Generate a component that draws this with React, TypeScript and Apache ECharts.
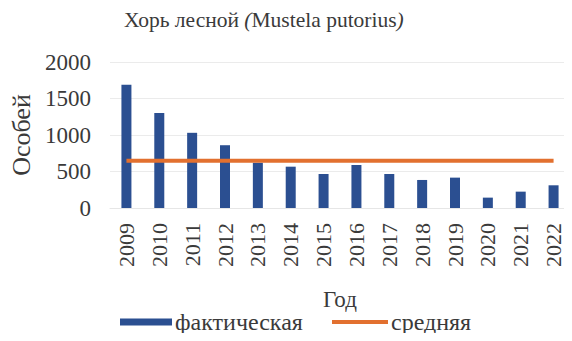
import React, { useEffect, useRef } from "react";
import * as echarts from "echarts";

const years = ["2009","2010","2011","2012","2013","2014","2015","2016","2017","2018","2019","2020","2021","2022"];
const actual = [1690, 1300, 1030, 860, 620, 566, 466, 589, 466, 384, 416, 142, 224, 311];
const average = [647, 647, 647, 647, 647, 647, 647, 647, 647, 647, 647, 647, 647, 647];
const yTicks = { min: 0, max: 2000, interval: 500 };

const FONT = "'Times New Roman', 'Liberation Serif', Times, serif";
const TXT = "#3a3a3a";

export default function App() {
  const ref = useRef<HTMLDivElement>(null);
  useEffect(() => {
    if (!ref.current) return;
    const chart = echarts.init(ref.current, undefined, { renderer: "svg" });
    chart.setOption({
      animation: false,
      backgroundColor: "#ffffff",
      textStyle: { fontFamily: FONT },
      title: {
        text: "{n|Хорь лесной }{i|(}{n|Mustela putorius}{i|)}",
        left: 124,
        top: 9,
        padding: 0,
        textStyle: {
          fontWeight: "normal",
          fontFamily: FONT,
          rich: {
            n: { fontFamily: FONT, fontSize: 21.5, color: TXT, fontWeight: "normal" },
            i: { fontFamily: FONT, fontSize: 21.5, color: TXT, fontStyle: "italic", fontWeight: "normal" },
          },
        },
      },
      legend: [
        {
          top: 310,
          left: 120,
          padding: 0,
          itemWidth: 52,
          itemHeight: 7,
          textStyle: { fontFamily: FONT, fontSize: 24, color: TXT, padding: [0, 0, 0, -2] },
          data: [{ name: "фактическая", icon: "rect" }],
        },
        {
          top: 310,
          left: 332,
          padding: 0,
          itemWidth: 56,
          itemHeight: 4,
          textStyle: { fontFamily: FONT, fontSize: 24, color: TXT, padding: [0, 0, 0, -2] },
          data: [{ name: "средняя", icon: "rect" }],
        },
      ],
      grid: { left: 110, right: 2, top: 62, bottom: 133, containLabel: false, outerBoundsMode: "none" },
      xAxis: {
        type: "category",
        data: years,
        name: "Год",
        nameLocation: "middle",
        nameGap: 80,
        nameTextStyle: { fontFamily: FONT, fontSize: 23, color: TXT },
        axisLine: { show: true, lineStyle: { color: "#e6e6e6" } },
        axisTick: { show: false },
        axisLabel: {
          rotate: 90,
          margin: 15,
          fontFamily: FONT,
          fontSize: 22,
          color: TXT,
          interval: 0,
        },
      },
      yAxis: {
        type: "value",
        min: yTicks.min,
        max: yTicks.max,
        interval: yTicks.interval,
        name: "Особей",
        nameLocation: "middle",
        nameGap: 75,
        nameTextStyle: { fontFamily: FONT, fontSize: 26, color: TXT },
        axisLine: { show: false },
        axisTick: { show: false },
        splitLine: { lineStyle: { color: "#ebebeb" } },
        axisLabel: {
          fontFamily: FONT,
          fontSize: 23,
          color: TXT,
          margin: 19,
          formatter: (v: number) => String(v),
        },
      },
      series: [
        {
          name: "фактическая",
          type: "bar",
          data: actual,
          barWidth: 10,
          itemStyle: { color: "#2b4f91" },
        },
        {
          name: "средняя",
          type: "line",
          data: average,
          symbol: "none",
          lineStyle: { color: "#e2702f", width: 4 },
          itemStyle: { color: "#e2702f" },
        },
      ],
    });
    return () => chart.dispose();
  }, []);
  return <div ref={ref} style={{ width: 572, height: 341, margin: -8 }} />;
}
